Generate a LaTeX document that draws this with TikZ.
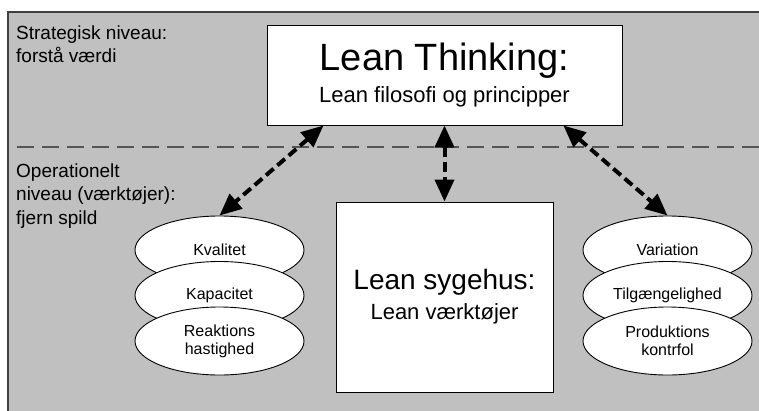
\documentclass[tikz,border=0pt]{standalone}
\usepackage{fontspec}
\setmainfont{Liberation Sans}
\usetikzlibrary{arrows.meta,shapes.geometric,calc}
\definecolor{panelgray}{HTML}{C0C0C0}
\definecolor{borderdark}{HTML}{404040}
\definecolor{sepgray}{HTML}{555555}
\tikzset{
  whitebox/.style={draw=black, line width=1pt, fill=white, inner sep=0pt},
  oval/.style={ellipse, draw=black, line width=0.9pt, fill=white, minimum width=169pt, minimum height=68pt, inner sep=0pt, align=center, font=\fontsize{16}{18}\selectfont},
  sidetext/.style={anchor=north west, inner sep=0pt, align=left, font=\fontsize{19}{23.5}\selectfont},
  bigarrow/.style={line width=4pt, dash pattern=on 10pt off 5pt, {Triangle[length=22pt,width=19pt]}-{Triangle[length=22pt,width=19pt]}},
}
\begin{document}
\begin{tikzpicture}[x=1pt,y=-1pt]
\useasboundingbox (0,0) rectangle (759,410);
% panel
\fill[panelgray] (8,12) rectangle (762,413);
\draw[borderdark, line width=2pt] (8,413) -- (8,12) -- (762,12);
% separator
\draw[sepgray, line width=1.5pt, dash pattern=on 17pt off 8pt] (17,147) -- (762,147);
% side labels
\node[sidetext] (strat) at (16,25.5) {Strategisk niveau:\\forstå værdi};
\node[sidetext] (oper) at (16,163.5) {Operationelt\\niveau (værktøjer):\\fjern spild};
% main boxes
\node[whitebox, minimum width=355pt, minimum height=100pt, align=center, font=\fontsize{22}{32}\selectfont] (lt) at (444.5,75)
  {{\fontsize{38}{32}\selectfont Lean Thinking:}\\Lean filosofi og principper};
\node[whitebox, minimum width=217pt, minimum height=190pt, align=center, font=\fontsize{22}{30}\selectfont] (ls) at (444.5,297)
  {{\fontsize{28}{30}\selectfont Lean sygehus:}\\Lean værktøjer};
% left ellipses
\node[oval] (kval) at (219.5,250) {Kvalitet};
\node[oval] (kap) at (219.5,295.5) {Kapacitet};
\node[oval] (reak) at (219.5,341) {Reaktions\\hastighed};
% right ellipses
\node[oval] (var) at (667.5,250) {Variation};
\node[oval] (tilg) at (667.5,295.5) {Tilgængelighed};
\node[oval] (prod) at (667.5,341) {Produktions\\kontrfol};
% arrows
\draw[bigarrow] ($(lt.south west)!0.16!(lt.south east)$) -- (kval.north);
\draw[bigarrow] (lt.south) -- (ls.north);
\draw[bigarrow] ($(lt.south west)!0.834!(lt.south east)$) -- (var.north);
\end{tikzpicture}
\end{document}
